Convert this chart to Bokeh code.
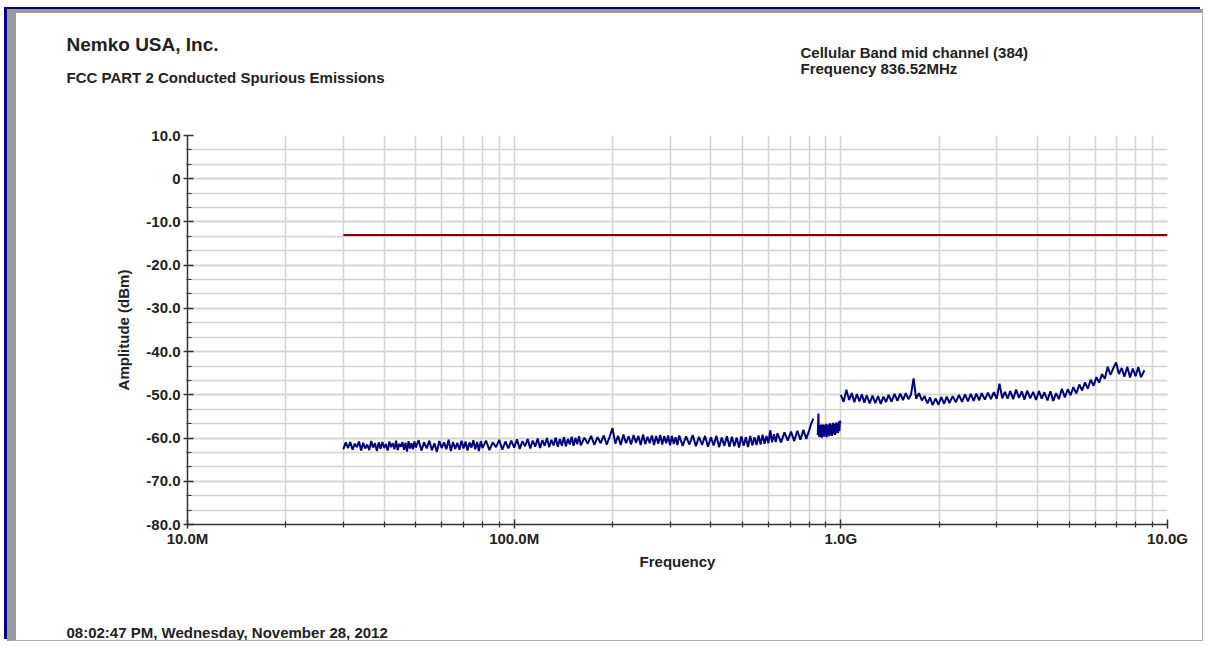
from bokeh.plotting import figure
from bokeh.models import FixedTicker, Range1d, Title
from bokeh.embed import file_html
from bokeh.resources import INLINE

# ---------------- data ----------------
# Trace, segment A: 30 MHz up to the carrier notch
seg_a_freq_mhz = [30, 30.5, 31, 31.5, 32, 32.5, 33, 33.5, 34, 34.5, 35, 35.5, 36, 36.5, 37, 37.5, 38, 38.5, 39, 39.5,
                  40, 40.5, 41, 41.5, 42, 42.5, 43, 43.5, 44, 44.5, 45, 45.5, 46, 46.5, 47, 47.5, 48, 48.5, 49, 49.5,
                  50, 51, 52, 53, 54, 55, 56, 57, 58, 59, 60, 61, 62, 63, 64, 65, 66, 67, 68, 69,
                  70, 71, 72, 73, 74, 75, 76, 77, 78, 79, 80, 82, 84, 86, 88, 90, 92, 94, 96, 98,
                  100, 102, 104, 106, 108, 110, 112, 114, 116, 118, 120, 122, 124, 126, 128, 130, 132, 134, 136, 138,
                  140, 142, 144, 146, 148, 150, 152, 154, 156, 158, 160, 164, 168, 172, 176, 180, 184, 188, 192, 196,
                  200, 204, 208, 212, 216, 220, 224, 228, 232, 236, 240, 244, 248, 252, 256, 260, 264, 268, 272, 276,
                  280, 284, 288, 292, 296, 300, 304, 308, 312, 316, 320, 328, 336, 344, 352, 360, 368, 376, 384, 392,
                  400, 408, 416, 424, 432, 440, 448, 456, 464, 472, 480, 488, 496, 504, 512, 520, 528, 536, 544, 552,
                  560, 568, 576, 584, 592, 600, 608, 616, 624, 632, 640, 656, 672, 688, 704, 720, 736, 752, 768, 784,
                  800, 812, 824]
seg_a_dbm = [-62.6, -61.0, -62.3, -60.9, -62.7, -61.3, -62.1, -60.8, -62.9, -61.1, -62.4, -61.5, -62.8, -60.7, -62.2, -61.2, -63.0, -61.0, -62.5, -60.9,
             -62.3, -61.4, -62.9, -60.8, -62.1, -61.2, -62.6, -60.6, -62.8, -61.3, -62.0, -60.9, -62.7, -61.1, -63.1, -60.7, -62.4, -61.2, -62.6, -60.8,
             -62.2, -60.5, -62.9, -61.0, -62.4, -60.6, -62.8, -61.2, -63.2, -60.7, -62.3, -61.0, -62.6, -60.4, -63.0, -60.9, -62.5, -61.1, -62.7, -60.6,
             -62.4, -60.8, -62.9, -61.0, -62.2, -60.5, -62.6, -60.9, -63.0, -60.7, -62.3, -60.6, -62.8, -61.0, -62.1, -60.4, -62.7, -60.8, -62.4, -60.6,
             -62.2, -60.3, -62.5, -60.7, -61.9, -60.2, -62.4, -60.6, -62.0, -60.1, -62.3, -60.5, -61.8, -60.0, -62.1, -60.4, -61.7, -59.9, -62.0, -60.2,
             -61.8, -59.8, -61.9, -60.2, -61.5, -59.7, -61.8, -60.0, -61.4, -59.6, -61.7, -59.9, -61.3, -59.5, -61.6, -59.8, -61.2, -59.4, -61.5, -59.7,
             -57.7, -61.3, -59.5, -61.6, -59.2, -61.2, -59.6, -61.5, -59.3, -61.1, -59.5, -61.6, -59.2, -61.4, -59.7, -61.2, -59.4, -61.6, -59.5, -61.3,
             -59.3, -61.5, -59.6, -61.2, -59.4, -61.7, -59.5, -61.4, -59.8, -61.6, -59.4, -61.8, -59.6, -61.5, -59.3, -61.9, -59.7, -61.6, -59.5, -62.0,
             -59.8, -61.7, -59.5, -62.1, -59.9, -61.8, -59.6, -62.0, -59.7, -61.9, -59.9, -62.2, -59.6, -61.8, -59.8, -62.1, -59.5, -61.7, -59.8, -61.6,
             -59.4, -61.5, -59.2, -61.3, -59.5, -61.2, -58.2, -61.0, -59.1, -60.9, -58.9, -61.0, -58.7, -60.6, -58.5, -60.7, -58.3, -60.4, -58.1, -60.2,
             -58.2, -56.6, -55.5]

# Trace, segment B: above the carrier notch up to 1 GHz
seg_b_freq_mhz = [850, 852, 854, 856, 858, 861, 864, 867, 870, 873, 876, 879, 882, 886, 890, 894, 898, 902, 906, 910,
                  914, 918, 922, 926, 930, 935, 940, 945, 950, 955, 960, 965, 970, 975, 980, 985, 990, 994, 997]
seg_b_dbm = [-59.3, -56.9, -54.3, -58.2, -59.7, -57.0, -59.8, -57.3, -59.6, -56.8, -59.9, -57.2, -59.5, -56.9, -59.7, -57.1, -59.4, -56.7, -59.8, -57.0,
             -59.3, -56.8, -59.6, -56.6, -59.2, -56.9, -59.5, -56.5, -59.1, -56.7, -59.3, -56.4, -58.9, -56.6, -58.8, -56.2, -58.4, -56.0, -56.6]

# Trace, segment C: 1 GHz to 8.5 GHz
seg_c_freq_mhz = [1000, 1020, 1040, 1060, 1080, 1100, 1120, 1140, 1160, 1180, 1200, 1225, 1250, 1275, 1300, 1325, 1350, 1375, 1400, 1430,
                  1460, 1490, 1520, 1550, 1580, 1610, 1640, 1670, 1700, 1735, 1770, 1805, 1840, 1875, 1910, 1950, 1990, 2030, 2070, 2110,
                  2150, 2200, 2250, 2300, 2350, 2400, 2450, 2500, 2550, 2600, 2650, 2700, 2760, 2820, 2880, 2940, 3000, 3060, 3120, 3180,
                  3240, 3300, 3370, 3440, 3510, 3580, 3650, 3720, 3800, 3880, 3960, 4040, 4120, 4200, 4290, 4380, 4470, 4560, 4650, 4750,
                  4850, 4950, 5050, 5150, 5260, 5370, 5480, 5590, 5700, 5820, 5940, 6060, 6180, 6300, 6430, 6560, 6690, 6820, 6960, 7100,
                  7240, 7380, 7530, 7680, 7830, 7980, 8140, 8300, 8500]
seg_c_dbm = [-50.0, -51.6, -48.8, -51.2, -49.6, -51.7, -49.8, -51.5, -49.9, -51.8, -50.1, -52.0, -50.2, -51.9, -50.3, -52.1, -50.4, -51.7, -50.0, -51.6,
             -49.8, -51.4, -49.7, -51.2, -49.6, -51.0, -49.9, -46.2, -50.9, -49.6, -51.3, -50.3, -52.0, -50.6, -52.4, -50.8, -52.3, -50.5, -52.1, -50.4,
             -51.9, -50.3, -51.7, -50.0, -51.6, -49.9, -51.5, -49.8, -51.4, -49.7, -51.3, -49.6, -51.1, -49.5, -51.0, -49.4, -50.9, -47.4, -50.8, -49.3,
             -50.9, -49.1, -51.0, -48.8, -50.7, -49.2, -51.1, -49.0, -50.8, -49.3, -51.2, -49.1, -50.9, -49.4, -51.3, -49.2, -51.4, -49.6, -51.0, -48.6,
             -50.6, -48.7, -50.1, -48.2, -49.7, -47.6, -49.0, -47.1, -48.6, -46.5, -47.9, -45.9, -47.2, -45.2, -46.3, -43.5, -45.4, -43.9, -42.5, -45.2,
             -43.8, -45.8, -43.5, -46.0, -43.9, -45.7, -43.6, -45.9, -44.3]

# Limit line
limit_freq_mhz = [30, 10000]
limit_dbm = [-13, -13]

# Axis ticks
x_tick_hz = [1e7, 1e8, 1e9, 1e10]
x_tick_labels = ["10.0M", "100.0M", "1.0G", "10.0G"]
y_tick_values = [10, 0, -10, -20, -30, -40, -50, -60, -70, -80]
y_tick_labels = ["10.0", "0", "-10.0", "-20.0", "-30.0", "-40.0", "-50.0", "-60.0", "-70.0", "-80.0"]

# Header / footer texts
company = "Nemko USA, Inc."
test_name = "FCC PART 2 Conducted Spurious Emissions"
channel = "Cellular Band mid channel (384)"
frequency_note = "Frequency 836.52MHz"
timestamp = "08:02:47 PM, Wednesday, November 28, 2012"

# ---------------- figure ----------------
W, H = 1196, 632
p = figure(width=W, height=H, x_axis_type="log",
           x_range=Range1d(1e7, 1e10), y_range=Range1d(-80, 10),
           output_backend="svg", toolbar_location=None,
           min_border_left=171, min_border_right=W - 1151,
           min_border_top=122, min_border_bottom=H - 511)
p.styles = {"margin-left": "7px", "margin-top": "9px",
            "border-left": "9px solid #9a9a9a", "border-top": "4px solid #9a9a9a",
            "border-right": "1px solid #b0b0b0", "border-bottom": "1px solid #b0b0b0",
            "box-shadow": "-3px -2px 0 0 #000080"}
p.outline_line_color = None
p.background_fill_color = "white"
p.border_fill_color = "white"

FONT = "Liberation Sans"
TXT = "#222222"
FS = "15px"

minor_x = [m * 10 ** e for e in (7, 8, 9) for m in range(2, 10)]
p.xaxis.ticker = FixedTicker(ticks=x_tick_hz, minor_ticks=minor_x)
p.xaxis.major_label_overrides = {t: s for t, s in zip(x_tick_hz, x_tick_labels)}
minor_y = [-80 + i * 10.0 / 3 for i in range(28)]
p.yaxis.ticker = FixedTicker(ticks=y_tick_values, minor_ticks=minor_y)
p.yaxis.major_label_overrides = {t: s for t, s in zip(y_tick_values, y_tick_labels)}

for ax in (p.xaxis[0], p.yaxis[0]):
    ax.axis_line_color = "#333333"
    ax.axis_line_width = 1.5
    ax.major_tick_line_color = "#333333"
    ax.minor_tick_line_color = "#333333"
    ax.major_tick_line_width = 1.5
    ax.minor_tick_line_width = 1.2
    ax.major_label_text_font = FONT
    ax.major_label_text_font_style = "bold"
    ax.major_label_text_font_size = FS
    ax.major_label_text_color = TXT
    ax.axis_label_text_font = FONT
    ax.axis_label_text_font_style = "bold"
    ax.axis_label_text_font_size = FS
    ax.axis_label_text_color = TXT

p.xaxis.major_tick_in = 5
p.xaxis.major_tick_out = 4
p.xaxis.minor_tick_in = 3
p.xaxis.minor_tick_out = 3
p.xaxis.major_label_standoff = 1
p.xaxis.axis_label = "Frequency"
p.xaxis.axis_label_standoff = 3

p.yaxis.major_tick_in = 6
p.yaxis.major_tick_out = 4
p.yaxis.minor_tick_in = 4
p.yaxis.minor_tick_out = 1
p.yaxis.major_label_standoff = 3
p.yaxis.axis_label = "Amplitude (dBm)"
p.yaxis.axis_label_standoff = 11

for g in (p.xgrid[0], p.ygrid[0]):
    g.grid_line_color = "#d2d2d2"
    g.grid_line_width = 1.5
    g.minor_grid_line_color = "#d2d2d2"
    g.minor_grid_line_width = 1.5

# ---------------- marks ----------------
p.line([f * 1e6 for f in limit_freq_mhz], limit_dbm, line_color="#8b0000", line_width=2)
for fr, db in ((seg_a_freq_mhz, seg_a_dbm), (seg_b_freq_mhz, seg_b_dbm), (seg_c_freq_mhz, seg_c_dbm)):
    p.line([f * 1e6 for f in fr], db, line_color="#000080", line_width=2)

# ---------------- header / footer (title panels, stacked outward from the frame) ----------------
def add_title(text, size, offset, standoff, side):
    p.add_layout(Title(text=text, align="left", offset=offset, standoff=standoff,
                       vertical_align="bottom", text_font=FONT, text_font_style="bold",
                       text_font_size=size, text_color=TXT), side)

LEFT_OFF = -121   # text left edge relative to the plot frame
RIGHT_OFF = 613

add_title(" ", "13px", 0, 36.5, "above")               # spacer
add_title(test_name, FS, LEFT_OFF, -8, "above")
add_title(frequency_note, FS, RIGHT_OFF, -12.6, "above")
add_title(channel, FS, RIGHT_OFF, 8, "above")
add_title(company, "19px", LEFT_OFF, -34.4, "above")

add_title(" ", "13px", 0, 37, "below")                 # spacer
add_title(timestamp, FS, LEFT_OFF, -10, "below")

open("out.html", "w").write(file_html(p, INLINE))
